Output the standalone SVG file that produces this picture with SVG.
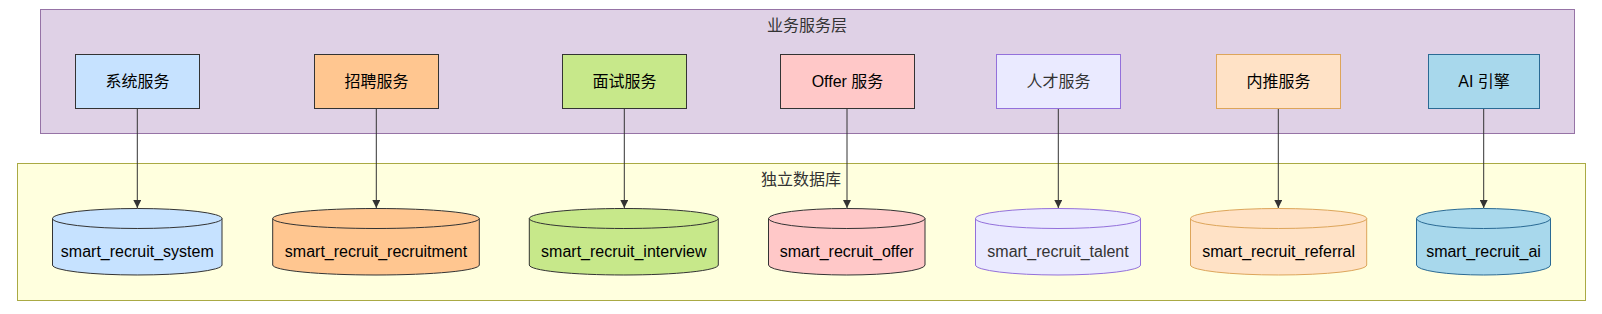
<svg xmlns="http://www.w3.org/2000/svg" width="1602" height="314" viewBox="0 0 1602 314">
<style>
text{font-family:"Liberation Sans","Noto Sans CJK SC",sans-serif;font-size:16px;fill:#000;text-anchor:middle}
.cl{fill:#333}
.box{stroke-width:1}
.edge{stroke:#333;stroke-width:1;fill:none}
.sys{fill:#c6e2ff;stroke:#333}
.rec{fill:#ffc690;stroke:#333}
.int{fill:#c7e88a;stroke:#333}
.off{fill:#ffc8c8;stroke:#333}
.tal{fill:#eaeaff;stroke:#9370db}
.ref{fill:#ffe2c6;stroke:#dda55a}
.ai{fill:#a8d8ec;stroke:#2a6a94}
</style>
<defs>
<marker id="arr" viewBox="0 0 10 10" refX="10" refY="5" markerWidth="8" markerHeight="8" markerUnits="userSpaceOnUse" orient="auto">
<path d="M0,0L10,5L0,10z" fill="#333"/>
</marker>
</defs>
<g id="cluster-service">
<rect x="40.5" y="9.5" width="1534" height="124" fill="#dfd1e6" stroke="#9673a6"/>
<text class="cl" x="807" y="30.5">业务服务层</text>
</g>
<g id="cluster-db">
<rect x="17.5" y="163.5" width="1568" height="137" fill="#ffffde" stroke="#aaaa44"/>
<text class="cl" x="801" y="184.5">独立数据库</text>
</g>
<g id="connectors">
<line class="edge" x1="137.3" y1="108.5" x2="137.3" y2="208" marker-end="url(#arr)"/>
<line class="edge" x1="376.3" y1="108.5" x2="376.3" y2="208" marker-end="url(#arr)"/>
<line class="edge" x1="624.3" y1="108.5" x2="624.3" y2="208" marker-end="url(#arr)"/>
<line class="edge" x1="847" y1="108.5" x2="847" y2="208" marker-end="url(#arr)"/>
<line class="edge" x1="1058.3" y1="108.5" x2="1058.3" y2="208" marker-end="url(#arr)"/>
<line class="edge" x1="1278.3" y1="108.5" x2="1278.3" y2="208" marker-end="url(#arr)"/>
<line class="edge" x1="1483.7" y1="108.5" x2="1483.7" y2="208" marker-end="url(#arr)"/>
</g>
<g id="svc-system"><rect class="sys" x="75.5" y="54.5" width="124" height="54"/><text x="137.5" y="87">系统服务</text></g>
<g id="svc-recruit"><rect class="rec" x="314.5" y="54.5" width="124" height="54"/><text x="376.5" y="87">招聘服务</text></g>
<g id="svc-interview"><rect class="int" x="562.5" y="54.5" width="124" height="54"/><text x="624.5" y="87">面试服务</text></g>
<g id="svc-offer"><rect class="off" x="780.5" y="54.5" width="134" height="54"/><text x="847.5" y="87">Offer 服务</text></g>
<g id="svc-talent"><rect class="tal" x="996.5" y="54.5" width="124" height="54"/><text class="cl" x="1058.5" y="87">人才服务</text></g>
<g id="svc-referral"><rect class="ref" x="1216.5" y="54.5" width="124" height="54"/><text x="1278.5" y="87">内推服务</text></g>
<g id="svc-ai"><rect class="ai" x="1428.5" y="54.5" width="111" height="54"/><text x="1484" y="87">AI 引擎</text></g>
<g id="db-system"><path class="sys" d="M52.5,218.5a84.75,10 0 0 0 169.5,0a84.75,10 0 0 0 -169.5,0l0,46.5a84.75,10 0 0 0 169.5,0l0,-46.5"/><text x="137.3" y="256.5">smart_recruit_system</text></g>
<g id="db-recruit"><path class="rec" d="M272.7,218.5a103.3,10 0 0 0 206.6,0a103.3,10 0 0 0 -206.6,0l0,46.5a103.3,10 0 0 0 206.6,0l0,-46.5"/><text x="376" y="256.5">smart_recruit_recruitment</text></g>
<g id="db-interview"><path class="int" d="M529.3,218.5a94.5,10 0 0 0 189,0a94.5,10 0 0 0 -189,0l0,46.5a94.5,10 0 0 0 189,0l0,-46.5"/><text x="623.8" y="256.5">smart_recruit_interview</text></g>
<g id="db-offer"><path class="off" d="M768.5,218.5a78.25,10 0 0 0 156.5,0a78.25,10 0 0 0 -156.5,0l0,46.5a78.25,10 0 0 0 156.5,0l0,-46.5"/><text x="846.7" y="256.5">smart_recruit_offer</text></g>
<g id="db-talent"><path class="tal" d="M975.5,218.5a82.5,10 0 0 0 165,0a82.5,10 0 0 0 -165,0l0,46.5a82.5,10 0 0 0 165,0l0,-46.5"/><text class="cl" x="1058" y="256.5">smart_recruit_talent</text></g>
<g id="db-referral"><path class="ref" d="M1190.5,218.5a88.1,10 0 0 0 176.2,0a88.1,10 0 0 0 -176.2,0l0,46.5a88.1,10 0 0 0 176.2,0l0,-46.5"/><text x="1278.6" y="256.5">smart_recruit_referral</text></g>
<g id="db-ai"><path class="ai" d="M1416.5,218.5a67,10 0 0 0 134,0a67,10 0 0 0 -134,0l0,46.5a67,10 0 0 0 134,0l0,-46.5"/><text x="1483.5" y="256.5">smart_recruit_ai</text></g>
</svg>
